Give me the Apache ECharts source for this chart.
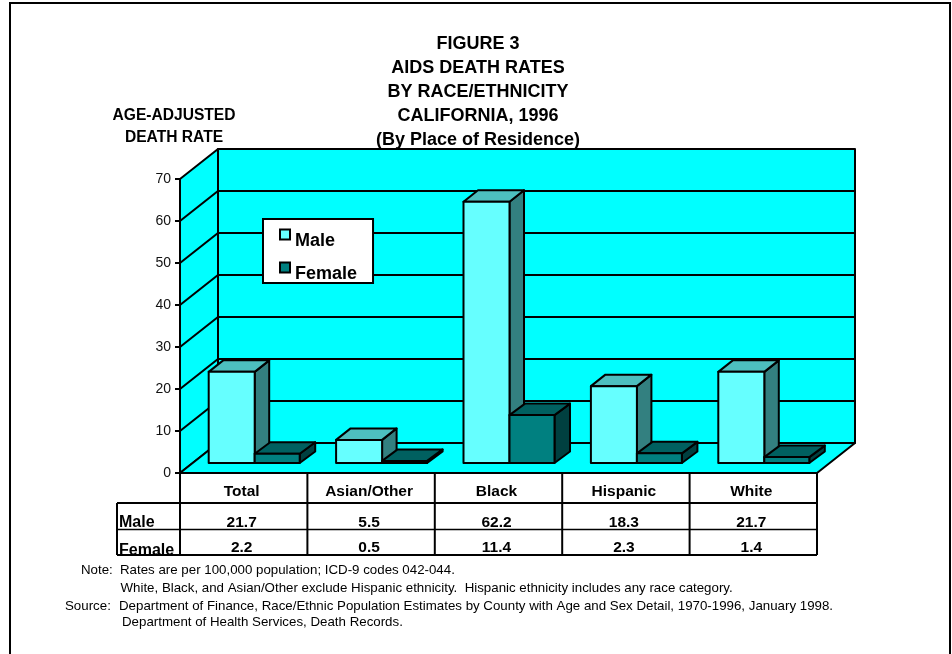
<!DOCTYPE html>
<html>
<head>
<meta charset="utf-8">
<style>html,body{margin:0;padding:0;background:#fff}#c{width:952px;height:654px}</style>
<script src="https://cdn.jsdelivr.net/npm/echarts@6/dist/echarts.min.js"></script>
</head>
<body>
<div id="c"></div>
<script>
const categories = ['Total', 'Asian/Other', 'Black', 'Hispanic', 'White'];
const maleValues = [21.7, 5.5, 62.2, 18.3, 21.7];
const femaleValues = [2.2, 0.5, 11.4, 2.3, 1.4];
const maleLabels = ['21.7', '5.5', '62.2', '18.3', '21.7'];
const femaleLabels = ['2.2', '0.5', '11.4', '2.3', '1.4'];
const gridTicks = [10, 20, 30, 40, 50, 60];
const titleLines = ['FIGURE 3', 'AIDS DEATH RATES', 'BY RACE/ETHNICITY', 'CALIFORNIA, 1996', '(By Place of Residence)'];
const yTitleLines = ['AGE-ADJUSTED', 'DEATH RATE'];
const notes = [
  ['Note:', 81, 563], ['Rates are per 100,000 population; ICD-9 codes 042-044.', 120, 563],
  ['White, Black, and Asian/Other exclude Hispanic ethnicity.  Hispanic ethnicity includes any race category.', 120.5, 581],
  ['Source:', 65, 599], ['Department of Finance, Race/Ethnic Population Estimates by County with Age and Sex Detail, 1970-1996, January 1998.', 119, 599],
  ['Department of Health Services, Death Records.', 122, 615]
];

const WALL = '#00FFFF';
const MALE = {front: '#66FFFF', top: '#4DBFBF', side: '#338080', width: 46, depth: 14.5};
const FEMALE = {front: '#008080', top: '#006060', side: '#004040', width: 45, depth: 15.5};
const INK = '#000';
const DX = 38, DY = -30;           // wall depth
const SHIFT_X = 11, SHIFT_Y = -10; // bars stand this far into the floor
const DEPTH_Y = -11.5;

function poly(points, fill, w) {
  return {type: 'polygon', shape: {points}, style: {fill, stroke: INK, lineWidth: w || 2, lineJoin: 'round'}};
}
function line(x1, y1, x2, y2, w) {
  return {type: 'line', shape: {x1, y1, x2, y2}, style: {stroke: INK, lineWidth: w || 2}};
}

function renderWalls(params, api) {
  const g = params.coordSys, l = g.x, r = g.x + g.width, t = api.coord([0, 70])[1], b = api.coord([0, 0])[1];
  return {type: 'group', children: [
    poly([[l + DX, t + DY], [r + DX, t + DY], [r + DX, b + DY], [l + DX, b + DY]], WALL),
    poly([[l, t], [l + DX, t + DY], [l + DX, b + DY], [l, b]], WALL),
    poly([[l, b], [l + DX, b + DY], [r + DX, b + DY], [r, b]], WALL)
  ]};
}
function renderGrid(params, api) {
  const g = params.coordSys, l = g.x, r = g.x + g.width, y = api.coord([0, api.value(1)])[1];
  return {type: 'polyline', shape: {points: [[l, y], [l + DX, y + DY], [r + DX, y + DY]]},
    style: {fill: null, stroke: INK, lineWidth: 2}};
}
function barRenderer(colors, side) {
  return function (params, api) {
    const i = api.value(0), base = api.coord([i, 0]), top = api.coord([i, api.value(1)]);
    const cx = base[0] + SHIFT_X, d = colors.depth;
    const x0 = side < 0 ? cx - colors.width : cx, x1 = side < 0 ? cx : cx + colors.width;
    const yb = base[1] + SHIFT_Y, yt = top[1] + SHIFT_Y;
    return {type: 'group', children: [
      poly([[x1, yb], [x1 + d, yb + DEPTH_Y], [x1 + d, yt + DEPTH_Y], [x1, yt]], colors.side),
      poly([[x0, yt], [x0 + d, yt + DEPTH_Y], [x1 + d, yt + DEPTH_Y], [x1, yt]], colors.top),
      poly([[x0, yb], [x0, yt], [x1, yt], [x1, yb]], colors.front)
    ]};
  };
}
function txt(text, x, y, align, size) {
  return {type: 'text', style: {text, x, y, align: align || 'center', verticalAlign: 'middle', fill: INK,
    font: 'bold ' + (size || 15.5) + 'px "Liberation Sans", Arial, sans-serif'}};
}
function renderTable(params, api) {
  const i = api.value(0), g = params.coordSys, l = g.x, r = g.x + g.width;
  const c = api.coord([i, 0]), b = c[1], half = g.width / categories.length / 2;
  const kids = [txt(maleLabels[i], c[0] - 2, b + 50), txt(femaleLabels[i], c[0] - 2, b + 75)];
  if (i === 0) {
    kids.push(txt('Male', l - 61, b + 50, 'left', 16), txt('Female', l - 61, b + 78, 'left', 16));
    kids.push(line(l - 63, b + 30, r, b + 30), line(l - 63, b + 56.5, r - 1, b + 56.5, 1.5), line(l - 63, b + 82, r, b + 82));
    kids.push(line(l - 63, b + 30, l - 63, b + 82), line(l, b, l, b + 82));
  }
  kids.push(line(c[0] + half, b, c[0] + half, b + 82));
  return {type: 'group', children: kids};
}
const pairs = a => a.map((v, i) => [i, v]);

const chart = echarts.init(document.getElementById('c'), null, {renderer: 'canvas'});
chart.setOption({
  animation: false,
  backgroundColor: '#fff',
  title: [
    {text: titleLines.join('\n'), left: 478, top: 32, textAlign: 'center', padding: 0,
      textStyle: {fontFamily: 'Liberation Sans', fontWeight: 'bold', fontSize: 18, lineHeight: 24, color: INK}},
    {text: yTitleLines.join('\n'), left: 174, top: 105, textAlign: 'center', padding: 0,
      textStyle: {fontFamily: 'Liberation Sans', fontWeight: 'bold', fontSize: 15.6, lineHeight: 22, color: INK}}
  ].concat(notes.map(n => ({text: n[0], left: n[1], top: n[2], padding: 0,
      textStyle: {fontFamily: 'Liberation Sans', fontWeight: 'normal', fontSize: 13.3, lineHeight: 14, color: INK}}))),
  graphic: [{type: 'polyline', shape: {points: [[10, 660], [10, 3], [950, 3], [950, 660]]},
    style: {fill: null, stroke: INK, lineWidth: 2}, silent: true}],
  legend: {
    left: 263, top: 219, orient: 'vertical', selectedMode: false,
    backgroundColor: '#fff', borderColor: INK, borderWidth: 2, borderRadius: 0,
    padding: [0, 16, 0, 16], itemWidth: 10, itemHeight: 10, itemGap: 2,
    formatter: '{a|{name}}',
    textStyle: {fontFamily: 'Liberation Sans', fontWeight: 'bold', fontSize: 18, color: INK,
      rich: {a: {fontFamily: 'Liberation Sans', fontWeight: 'bold', fontSize: 18, color: INK, padding: [13, 0, 0, 0], lineHeight: 20}}},
    data: [
      {name: 'Male', icon: 'rect', itemStyle: {color: MALE.front, borderColor: INK, borderWidth: 2}},
      {name: 'Female', icon: 'rect', itemStyle: {color: FEMALE.front, borderColor: INK, borderWidth: 2}}
    ]
  },
  grid: {left: 180, width: 637, top: 179, height: 294},
  xAxis: {
    type: 'category', data: categories, z: 5,
    axisLine: {lineStyle: {color: INK, width: 2}}, axisTick: {show: false},
    axisLabel: {margin: 11, color: INK, fontFamily: 'Liberation Sans', fontWeight: 'bold', fontSize: 15.5, padding: [0, 4, 0, 0]}
  },
  yAxis: {
    type: 'value', min: 0, max: 70, interval: 10, z: 5,
    axisLine: {show: true, lineStyle: {color: INK, width: 2}},
    axisTick: {show: true, length: 5, lineStyle: {color: INK, width: 2}},
    axisLabel: {margin: 9, color: '#111', fontFamily: 'Liberation Sans', fontSize: 14, padding: [3, 0, 0, 0]},
    splitLine: {show: false}
  },
  series: [
    {type: 'custom', name: 'walls', silent: true, clip: false, data: [[0, 0]], renderItem: renderWalls},
    {type: 'custom', name: 'gridlines', silent: true, clip: false, data: gridTicks.map(v => [0, v]), renderItem: renderGrid},
    {type: 'custom', name: 'Male', clip: false, itemStyle: {color: MALE.front}, data: pairs(maleValues), renderItem: barRenderer(MALE, -1)},
    {type: 'custom', name: 'Female', clip: false, itemStyle: {color: FEMALE.front}, data: pairs(femaleValues), renderItem: barRenderer(FEMALE, 1)},
    {type: 'custom', name: 'table', silent: true, clip: false, data: pairs(maleValues), renderItem: renderTable}
  ]
});
</script>
</body>
</html>
